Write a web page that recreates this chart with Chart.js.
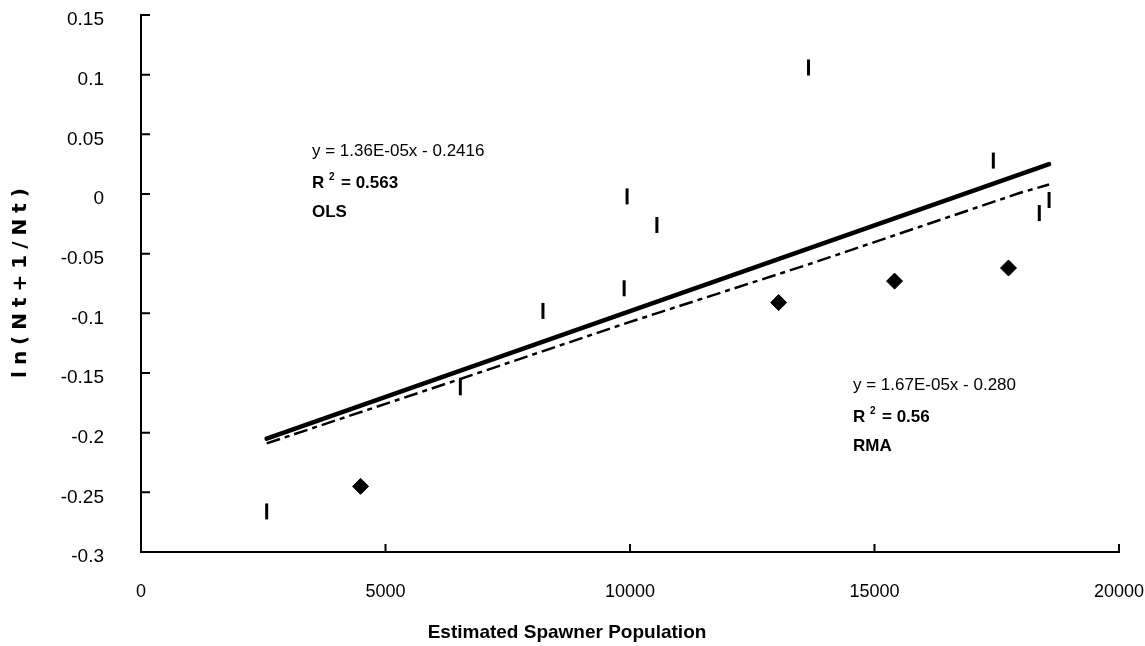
<!DOCTYPE html>
<html>
<head>
<meta charset="utf-8">
<script src="https://cdn.jsdelivr.net/npm/chart.js@4"></script>
<style>
html, body { margin: 0; padding: 0; background: #fff; }
#wrap { width: 1145px; height: 646px; }
</style>
</head>
<body>
<div id="wrap"><canvas id="myChart" width="1145" height="646"></canvas></div>
<script>
// observed points, vertical-dash markers
const dashX = [2570, 6530, 8220, 9880, 9940, 10550, 13650, 17430, 18370, 18570];
const dashY = [-0.266, -0.162, -0.098, -0.079, -0.002, -0.026, 0.106, 0.028, -0.016, -0.005];
// diamond markers
const diamondX = [4490, 13040, 15410, 17740];
const diamondY = [-0.245, -0.091, -0.073, -0.062];
// fitted lines
const olsX = [2570, 18570];
const olsY = [-0.205, 0.025];
const rmaX = [2570, 6530, 9940, 13650, 17980, 18570];
const rmaY = [-0.209, -0.155, -0.108, -0.059, 0.001, 0.008];

const xTicks = [0, 5000, 10000, 15000, 20000];
const yTicks = [-0.3, -0.25, -0.2, -0.15, -0.1, -0.05, 0, 0.05, 0.1, 0.15];

const xTitle = "Estimated Spawner Population";
const yTitle = "ln(Nt+1/Nt)";
const olsText = ["y = 1.36E-05x - 0.2416", "0.563", "OLS"];
const rmaText = ["y = 1.67E-05x - 0.280", "0.56", "RMA"];

const toPoints = (xs, ys) => xs.map((x, i) => ({ x: x, y: ys[i] }));

const FONT = "'Liberation Sans', Arial, sans-serif";

// inward tick marks, axis titles and fit labels
const extras = {
    id: 'extras',
    afterDraw(chart) {
        const ctx = chart.ctx;
        const xs = chart.scales.x, ys = chart.scales.y;
        const area = chart.chartArea;
        ctx.save();
        ctx.strokeStyle = '#000';
        ctx.lineWidth = 2;
        ctx.beginPath();
        xTicks.forEach(v => {
            const px = xs.getPixelForValue(v);
            ctx.moveTo(px, area.bottom);
            ctx.lineTo(px, area.bottom - 8);
        });
        yTicks.forEach(v => {
            const py = ys.getPixelForValue(v);
            ctx.moveTo(area.left, py);
            ctx.lineTo(area.left + 9, py);
        });
        ctx.stroke();

        ctx.fillStyle = '#000';
        ctx.textBaseline = 'middle';
        ctx.textAlign = 'center';
        ctx.font = "bold 19px " + FONT;
        ctx.fillText(xTitle, 567, 633);

        // y title, rotated, spaced out
        ctx.save();
        ctx.translate(21, 283);
        ctx.rotate(-Math.PI / 2);
        ctx.font = "bold 20px 'DejaVu Sans', sans-serif";
        const gap = 6;
        const widths = [...yTitle].map(c => ctx.measureText(c).width);
        const total = widths.reduce((a, b) => a + b, 0) + gap * (widths.length - 1);
        let cx = -total / 2;
        ctx.textAlign = 'left';
        [...yTitle].forEach((c, i) => {
            ctx.fillText(c, cx, 0);
            cx += widths[i] + gap;
        });
        ctx.restore();

        drawFit(ctx, olsText, 312, 151);
        drawFit(ctx, rmaText, 853, 385);
        ctx.restore();
    }
};

function drawFit(ctx, lines, x, y) {
    ctx.textAlign = 'left';
    ctx.textBaseline = 'middle';
    ctx.font = "17px " + FONT;
    ctx.fillText(lines[0], x, y);
    ctx.font = "bold 17px " + FONT;
    ctx.fillText("R", x, y + 32);
    ctx.font = "bold 10px " + FONT;
    ctx.fillText("2", x + 17, y + 26);
    ctx.font = "bold 17px " + FONT;
    ctx.fillText("= " + lines[1], x + 29, y + 32);
    ctx.fillText(lines[2], x, y + 61);
}

const ctx = document.getElementById("myChart").getContext("2d");

new Chart(ctx, {
    type: 'scatter',
    data: {
        datasets: [
            {
                label: 'observed',
                data: toPoints(dashX, dashY),
                pointStyle: 'line',
                rotation: 90,
                radius: 8,
                borderWidth: 3,
                borderColor: '#000',
                backgroundColor: '#000'
            },
            {
                label: 'diamonds',
                data: toPoints(diamondX, diamondY),
                pointStyle: 'rectRot',
                radius: 8,
                borderWidth: 1,
                borderColor: '#000',
                backgroundColor: '#000'
            },
            {
                label: 'OLS',
                data: toPoints(olsX, olsY),
                showLine: true,
                pointRadius: 0,
                borderWidth: 4.5,
                borderColor: '#000',
                borderCapStyle: 'round'
            },
            {
                label: 'RMA',
                data: toPoints(rmaX, rmaY),
                showLine: true,
                pointRadius: 0,
                borderWidth: 2.5,
                borderColor: '#000',
                borderDash: [14, 5, 5, 5]
            }
        ]
    },
    options: {
        responsive: false,
        animation: false,
        layout: { padding: { left: 0, top: 15, right: 26, bottom: 0 } },
        plugins: {
            legend: { display: false },
            tooltip: { enabled: false }
        },
        scales: {
            x: {
                type: 'linear',
                min: 0,
                max: 20000,
                afterBuildTicks: s => { s.ticks = xTicks.map(v => ({ value: v })); },
                afterFit: s => {
                    s.height = 94;
                    s.paddingLeft = 0;
                    s.paddingRight = 0;
                },
                grid: { display: false, drawTicks: false },
                border: { display: true, color: '#000', width: 2 },
                ticks: {
                    color: '#000',
                    font: { family: FONT, size: 18 },
                    padding: 29,
                    maxRotation: 0,
                    callback: v => String(v)
                }
            },
            y: {
                min: -0.3,
                max: 0.15,
                afterBuildTicks: s => { s.ticks = yTicks.map(v => ({ value: v })); },
                afterFit: s => {
                    s.width = 141;
                    s.paddingTop = 0;
                    s.paddingBottom = 0;
                },
                grid: { display: false, drawTicks: false },
                border: { display: true, color: '#000', width: 2 },
                ticks: {
                    color: '#000',
                    font: { family: FONT, size: 19 },
                    padding: 37,
                    labelOffset: 5,
                    callback: v => String(Math.round(v * 100) / 100)
                }
            }
        }
    },
    plugins: [extras]
});
</script>
</body>
</html>
